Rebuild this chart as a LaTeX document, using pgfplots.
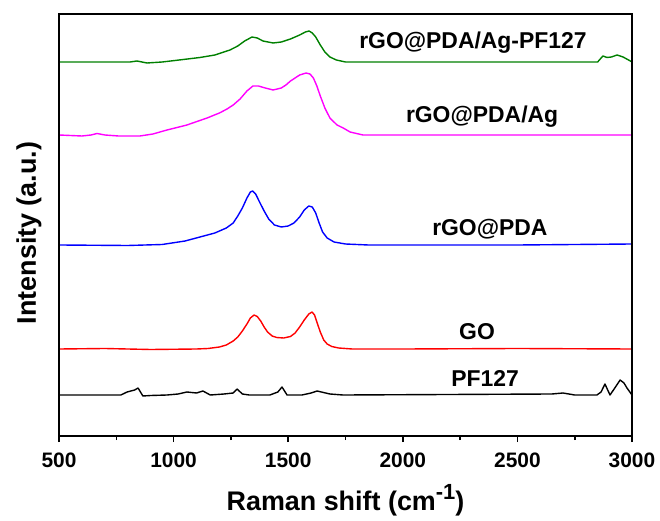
\documentclass[border=0pt]{standalone}
\usepackage{fontspec}
\setmainfont{Liberation Sans}
\usepackage{pgfplots}
\pgfplotsset{compat=1.18}
\definecolor{cgreen}{RGB}{0,128,0}
\definecolor{cmag}{RGB}{255,0,255}
\definecolor{cblue}{RGB}{0,0,255}
\definecolor{cred}{RGB}{255,0,0}
\begin{document}
\begin{tikzpicture}
\begin{axis}[
    name=ax,
    width=573bp, height=422bp, scale only axis,
    xmin=500, xmax=3000, ymin=0, ymax=422,
    xtick={500,1000,1500,2000,2500,3000},
    minor xtick={750,1250,1750,2250,2750},
    ytick=\empty,
    tick align=outside,
    major tick length=6bp, minor tick length=4bp,
    every tick/.style={black, line width=1.6pt},
    axis line style={line width=2.8pt},
    xtick pos=bottom,
    /pgf/number format/1000 sep={},
    /pgf/number format/assume math mode=true,
    ticklabel style={font=\fontsize{21}{24}\selectfont\bfseries},
    xticklabel style={yshift=-7bp},
    xlabel={Raman shift (cm\raisebox{0.42em}{\fontsize{22}{22}\selectfont -1})},
    ylabel={Intensity (a.u.)},
    label style={font=\fontsize{27}{30}\selectfont\bfseries},
    xlabel style={yshift=-10bp},
    ylabel style={yshift=8bp, xshift=-8bp},
    every axis plot/.append style={line width=1.4pt, line join=round},
    clip=false,
]
% PF127
\addplot[black] coordinates {(500,41)(770,41)(797,44)(830,46)(845,48)(866,40)(900,40.5)(971,41)(1020,42)(1058,44)(1100,43)(1128,45)(1160,41)(1220,42)(1260,43)(1277,47)(1300,42)(1330,41)(1420,41)(1455,44)(1473,49)(1495,41)(1560,41)(1600,43)(1626,45)(1682,42)(1739,41)(2650,42)(2699,43)(2750,41)(2847,41)(2865,44)(2882,52)(2904,41)(2925,48)(2948,56)(2965,53)(2978,48)(3000,41)};
% GO
\addplot[cred] coordinates {(500,87)(700,87.5)(900,86.5)(1100,87)(1150,87.5)(1200,89)(1230,91)(1260,95)(1280,99)(1300,105)(1320,112)(1335,118)(1351,121)(1365,119.5)(1380,115)(1395,109)(1410,104)(1430,100)(1450,98.5)(1480,98)(1510,99.5)(1530,103)(1550,109)(1570,116)(1590,122)(1604,124)(1615,121)(1625,114)(1640,104)(1655,96)(1670,92)(1690,89.5)(1720,88)(1780,87)(2000,87)(2500,87.5)(3000,87)};
% rGO@PDA
\addplot[cblue] coordinates {(500,191)(800,190.5)(950,191.5)(1050,195)(1115,199)(1180,203)(1230,208)(1260,213)(1280,220)(1300,228)(1320,238)(1335,244)(1345,245)(1358,242)(1375,234)(1395,225)(1415,217)(1440,211)(1470,209)(1500,210)(1525,213)(1550,219)(1570,226)(1590,230)(1605,229)(1620,223)(1635,213)(1650,204)(1670,198)(1700,194)(1750,192)(1850,191)(2500,191)(3000,192)};
% rGO@PDA/Ag
\addplot[cmag] coordinates {(500,301)(600,300)(640,301)(666,302.5)(700,301)(760,300)(853,300)(910,302)(971,306)(1058,311)(1146,318)(1200,323)(1233,327)(1260,331)(1290,337)(1320,345)(1346,350)(1370,350)(1400,348)(1434,346)(1470,348)(1490,351)(1510,355)(1550,361)(1578,363)(1595,362)(1610,358)(1625,350)(1640,340)(1660,328)(1682,318)(1713,311)(1740,308)(1770,304)(1826,301)(2200,301)(3000,301)};
% rGO@PDA/Ag-PF127
\addplot[cgreen] coordinates {(500,374)(810,374)(840,375)(884,373)(950,374)(1006,375.5)(1115,378.5)(1180,381)(1246,386)(1280,390)(1310,395)(1342,399)(1365,398)(1390,395)(1434,393)(1470,394)(1510,397)(1550,401)(1575,404)(1591,405)(1605,403)(1620,399)(1640,391)(1660,384)(1682,379)(1710,376)(1750,374)(2850,374)(2873,380)(2891,378.5)(2910,379)(2935,381)(2961,379)(2985,376)(3000,374)};
\begin{scope}[every node/.style={font=\fontsize{23}{26}\selectfont\bfseries}]
\node at (axis cs:2306,393) {rGO@PDA/Ag-PF127};
\node at (axis cs:2346,319) {rGO@PDA/Ag};
\node at (axis cs:2380,207) {rGO@PDA};
\node at (axis cs:2324,104) {GO};
\node at (axis cs:2359,58) {PF127};
\end{scope}
\end{axis}
\draw[line width=2.8pt] (ax.south west) rectangle (ax.north east);
\path ([shift={(-59bp,-85bp)}]ax.south west) rectangle ([shift={(28bp,14bp)}]ax.north east);
\end{tikzpicture}
\end{document}
